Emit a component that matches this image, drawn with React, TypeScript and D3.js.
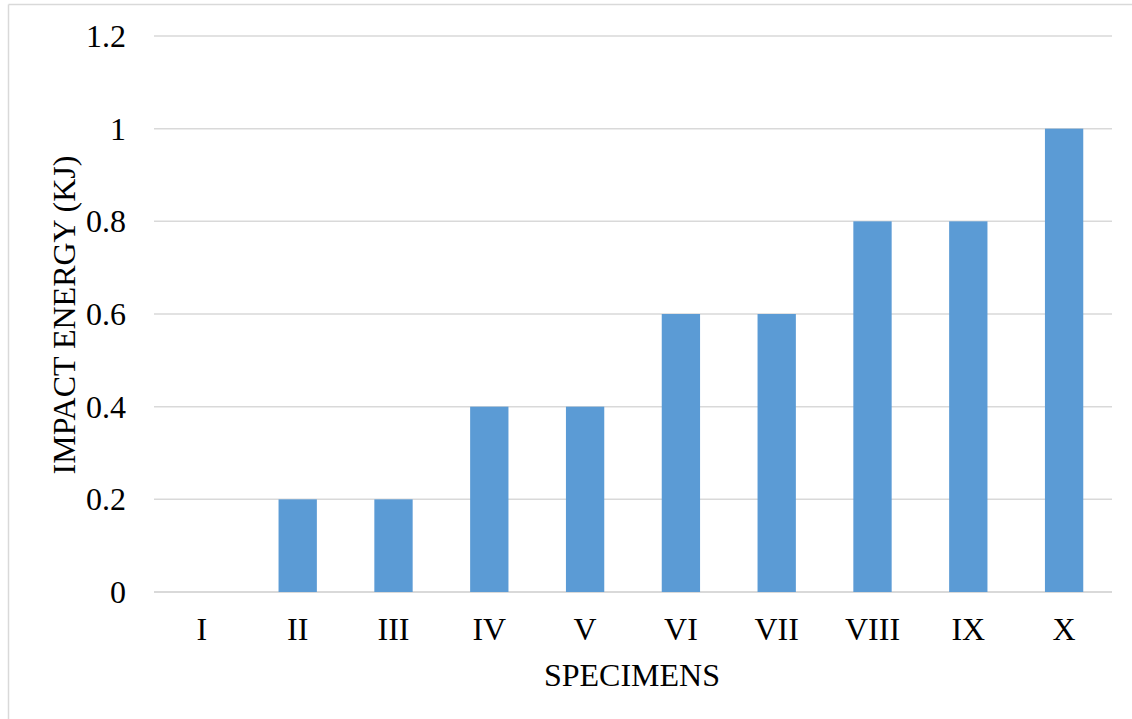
import React, { useRef, useEffect } from "react";
import * as d3 from "d3";

const specimens = ["I", "II", "III", "IV", "V", "VI", "VII", "VIII", "IX", "X"];
const impactEnergy = [0, 0.2, 0.2, 0.4, 0.4, 0.6, 0.6, 0.8, 0.8, 1];
const yTicks = [0, 0.2, 0.4, 0.6, 0.8, 1, 1.2];

export default function App() {
  const svgRef = useRef<SVGSVGElement>(null);

  useEffect(() => {
    if (!svgRef.current) return;
    const svg = d3.select(svgRef.current);
    svg.selectAll("*").remove();

    const width = 1132;
    const height = 719;
    const margin = { top: 36, right: 20, bottom: 127, left: 154 };
    const fontSize = 32;

    // outer frame (only top and left edges are visible in the crop)
    svg.append("line")
      .attr("x1", 8.5).attr("x2", width).attr("y1", 4.5).attr("y2", 4.5)
      .attr("stroke", "#d9d9d9").attr("stroke-width", 1.5);
    svg.append("line")
      .attr("x1", 8.5).attr("x2", 8.5).attr("y1", 4.5).attr("y2", height)
      .attr("stroke", "#d9d9d9").attr("stroke-width", 1.5);

    const x = d3.scaleBand()
      .domain(specimens)
      .range([margin.left, width - margin.right])
      .paddingInner(0.6)
      .paddingOuter(0.3);

    const y = d3.scaleLinear()
      .domain([0, 1.2])
      .range([height - margin.bottom, margin.top]);

    // gridlines
    svg.append("g")
      .selectAll("line")
      .data(yTicks)
      .join("line")
      .attr("x1", margin.left)
      .attr("x2", width - margin.right)
      .attr("y1", (d) => y(d))
      .attr("y2", (d) => y(d))
      .attr("stroke", "#d9d9d9")
      .attr("stroke-width", (d) => (d === 0 ? 2 : 1.5));

    // y tick labels
    svg.append("g")
      .selectAll("text")
      .data(yTicks)
      .join("text")
      .attr("x", 126)
      .attr("y", (d) => y(d) + 11)
      .attr("text-anchor", "end")
      .attr("font-size", fontSize)
      .text((d) => d3.format("")(d));

    // bars
    svg.append("g")
      .selectAll("rect")
      .data(impactEnergy)
      .join("rect")
      .attr("x", (_, i) => x(specimens[i])!)
      .attr("y", (d) => y(d))
      .attr("width", x.bandwidth())
      .attr("height", (d) => y(0) - y(d))
      .attr("fill", "#5b9bd5");

    // x tick labels
    svg.append("g")
      .selectAll("text")
      .data(specimens)
      .join("text")
      .attr("x", (d) => x(d)! + x.bandwidth() / 2)
      .attr("y", 640)
      .attr("text-anchor", "middle")
      .attr("font-size", fontSize)
      .text((d) => d);

    // axis titles
    svg.append("text")
      .attr("x", 632)
      .attr("y", 686)
      .attr("text-anchor", "middle")
      .attr("font-size", fontSize)
      .text("SPECIMENS");

    svg.append("text")
      .attr("transform", `translate(75,315) rotate(-90)`)
      .attr("text-anchor", "middle")
      .attr("font-size", fontSize)
      .text("IMPACT ENERGY (KJ)");
  }, []);

  return (
    <svg
      ref={svgRef}
      width="1132"
      height="719"
      style={{
        position: "absolute",
        left: 0,
        top: 0,
        background: "white",
        fontFamily: '"Liberation Serif", "DejaVu Serif", serif',
      }}
    />
  );
}
